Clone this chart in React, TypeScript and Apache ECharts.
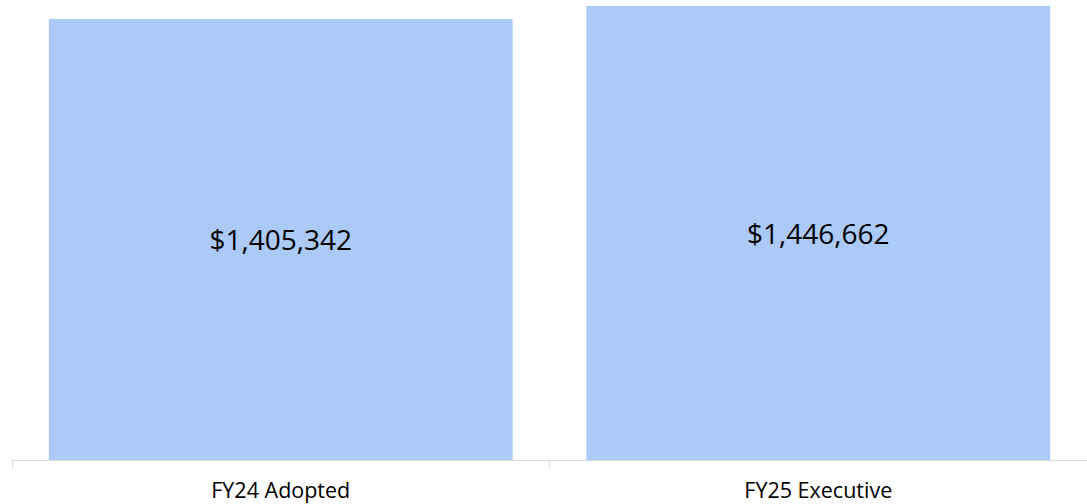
import React, { useEffect, useRef } from "react";
import * as echarts from "echarts";

const categories = ["FY24 Adopted", "FY25 Executive"];
const values = [1405342, 1446662];

export default function App() {
  const ref = useRef<HTMLDivElement>(null);
  useEffect(() => {
    document.body.style.margin = "0";
    const chart = echarts.init(ref.current!, null, { renderer: "svg" });
    chart.setOption({
      animation: false,
      backgroundColor: "#ffffff",
      grid: { left: 12, top: 6, width: 1080, height: 454, containLabel: false },
      xAxis: {
        type: "category",
        data: categories,
        axisLine: { lineStyle: { color: "#d9d9d9", width: 1 } },
        axisTick: { show: true, length: 9, lineStyle: { color: "#d9d9d9" } },
        axisLabel: {
          color: "#000000",
          fontFamily: "Open Sans",
          fontSize: 21.5,
          margin: 18,
        },
      },
      yAxis: {
        type: "value",
        min: 0,
        max: "dataMax",
        show: false,
        splitLine: { show: false },
      },
      series: [
        {
          type: "bar",
          data: values,
          barWidth: "86.3%",
          itemStyle: { color: "#abcaf7" },
          label: {
            show: true,
            position: "inside",
            color: "#000000",
            fontFamily: "Open Sans",
            fontSize: 28,
            formatter: (p: any) => "$" + Number(p.value).toLocaleString("en-US"),
          },
        },
      ],
    });
    return () => chart.dispose();
  }, []);
  return <div ref={ref} style={{ width: 1087, height: 504 }} />;
}
